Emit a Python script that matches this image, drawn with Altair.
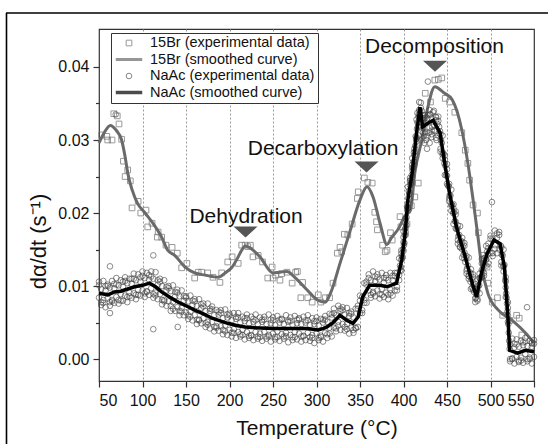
import altair as alt
import pandas as pd

# ---------------- data (rates in units of 1e-4 s^-1) ----------------
SERIES = ["15Br (experimental data)", "15Br (smoothed curve)",
          "NaAc (experimental data)", "NaAc (smoothed curve)"]

# 15Br experimental points (squares)
br_T = [53, 59, 60, 65, 67, 71, 73, 76, 78, 80,
        83, 86, 88, 95, 98, 104, 106, 111, 117, 118,
        122, 127, 134, 140, 145, 151, 160, 164, 168, 175,
        181, 189, 191, 198, 203, 210, 214, 218, 221, 224,
        227, 233, 238, 244, 249, 250, 253, 258, 260, 266,
        272, 276, 278, 282, 284, 290, 295, 302, 305, 310,
        315, 319, 324, 327, 329, 332, 336, 341, 347, 348,
        355, 359, 364, 367, 369, 370, 376, 379, 381, 385,
        387, 396, 397, 402, 404, 405, 413, 417, 425, 436,
        440, 444, 448, 453, 459, 467, 471, 474, 476, 480,
        485, 486, 491, 496, 497, 508, 514, 522, 530, 533,
        536, 548, 409, 421, 431, 502]
br_v = [307, 305, 300, 300, 336, 333, 322, 301, 271, 250,
        259, 244, 207, 216, 200, 204, 181, 186, 167, 174,
        167, 156, 153, 145, 125, 131, 111, 119, 119, 118,
        112, 105, 118, 133, 140, 131, 156, 156, 154, 156,
        140, 142, 133, 111, 126, 111, 115, 108, 117, 119,
        104, 119, 120, 84, 105, 84, 78, 88, 78, 84,
        84, 104, 145, 153, 147, 171, 170, 185, 220, 229,
        248, 242, 241, 201, 188, 177, 156, 147, 149, 173,
        163, 195, 181, 188, 185, 204, 222, 241, 364, 382,
        383, 385, 357, 352, 338, 310, 286, 268, 245, 211,
        200, 173, 142, 126, 104, 84, 60, 53, 60, 56,
        33, 22, 210, 300, 352, 78]

# 15Br smoothed curve
br_line_T = [50, 56, 63, 70, 76, 80, 83, 88, 94, 103,
             112, 122, 129, 137, 149, 160, 172, 187, 195, 203,
             210, 214, 218, 224, 235, 250, 258, 266, 275, 289,
             301, 310, 316, 327, 339, 350, 358, 365, 373, 381,
             386, 395, 401, 408, 413, 421, 428, 436, 446, 456,
             467, 474, 480, 485, 490, 497, 509, 525, 540, 550]
br_line_v = [296, 310, 320, 313, 300, 277, 255, 232, 214, 200,
             186, 167, 149, 142, 126, 118, 115, 112, 118, 126,
             140, 149, 155, 152, 140, 118, 119, 120, 112, 95,
             81, 78, 90, 131, 177, 218, 236, 222, 186, 157,
             166, 180, 195, 204, 255, 300, 345, 373, 365, 355,
             314, 268, 218, 173, 126, 90, 67, 53, 36, 22]

# NaAc smoothed curve
nac_line_T = [50, 55, 60, 68, 75, 91, 100, 108, 115, 122,
              131, 141, 150, 160, 170, 180, 190, 198, 208, 218,
              230, 250, 270, 289, 302, 308, 312, 319, 327, 335,
              342, 348, 353, 361, 373, 381, 392, 398, 402, 405,
              410, 415, 419, 422, 428, 434, 442, 448, 453, 461,
              471, 479, 484, 490, 496, 504, 511, 516, 520, 522,
              531, 540, 550]
nac_line_v = [90, 89, 88, 92, 93, 99, 101, 104, 99, 92,
              85, 78, 73, 67, 62, 56, 52, 49, 46, 44,
              43, 42, 42, 42, 40, 42, 44, 50, 60, 53,
              49, 58, 85, 101, 101, 99, 104, 136, 173, 218,
              255, 310, 345, 318, 323, 327, 310, 263, 227, 180,
              140, 104, 85, 120, 144, 163, 158, 126, 58, 12,
              8, 12, 10]

# NaAc experimental points (circles), read as rows across the band
nac_T_a = [50, 55, 60, 65, 70, 75, 80, 85, 90, 95,
           100, 105, 110, 115, 120, 125, 130, 135, 140, 145,
           150, 155, 160, 165, 170, 175, 180, 185, 190, 195,
           200, 205, 210, 215, 220, 225, 230, 235, 240, 245,
           250, 255, 260, 265, 270, 275, 280, 285, 290, 295,
           300, 305, 310, 315, 320, 325, 330, 335, 340, 345,
           350, 355, 360, 365, 370, 375, 380, 385, 390, 395,
           400, 405, 410, 415, 420, 425, 430, 435, 440, 445,
           450, 455, 460, 465, 470, 475, 480, 485, 490, 495,
           500, 505, 510, 515, 520, 525, 530, 535, 540, 545,
           550]
nac_hi_a = [106, 107, 102, 107, 111, 108, 112, 110, 117, 116,
            120, 118, 120, 119, 110, 108, 100, 101, 95, 94,
            86, 87, 82, 82, 76, 76, 72, 67, 67, 68,
            62, 63, 63, 58, 61, 58, 61, 57, 58, 61,
            57, 59, 55, 60, 57, 59, 56, 58, 60, 56,
            57, 55, 59, 62, 69, 73, 71, 70, 65, 69,
            87, 104, 116, 120, 116, 118, 115, 118, 118, 138,
            175, 236, 275, 328, 351, 334, 341, 340, 332, 306,
            267, 232, 202, 182, 159, 139, 116, 109, 137, 155,
            169, 176, 174, 150, 78, 28, 27, 25, 29, 25,
            26]
nac_mid_a = [101, 77, 100, 79, 102, 80, 107, 86, 110, 88,
             114, 92, 113, 87, 106, 79, 97, 69, 91, 65,
             84, 58, 79, 53, 72, 47, 68, 43, 63, 38,
             60, 36, 57, 33, 56, 32, 53, 30, 54, 31,
             53, 30, 54, 31, 52, 30, 54, 31, 53, 29,
             52, 30, 54, 35, 63, 46, 67, 41, 62, 42,
             80, 77, 111, 90, 112, 88, 111, 90, 114, 108,
             167, 207, 266, 298, 344, 309, 335, 313, 326, 275,
             260, 203, 198, 153, 155, 110, 112, 80, 131, 128,
             165, 151, 170, 120, 70, 0, 20, -2, 24, 0,
             21]
nac_lo_a = [84, 81, 83, 81, 85, 89, 87, 91, 90, 95,
            94, 93, 97, 91, 89, 81, 79, 78, 71, 70,
            64, 65, 60, 54, 56, 51, 51, 45, 45, 46,
            40, 41, 37, 40, 37, 33, 37, 35, 37, 33,
            35, 38, 34, 36, 33, 37, 35, 32, 36, 33,
            35, 32, 36, 43, 43, 51, 48, 48, 43, 43,
            63, 81, 94, 92, 94, 96, 91, 95, 94, 115,
            148, 208, 249, 302, 331, 311, 317, 321, 306, 280,
            240, 210, 179, 154, 138, 114, 95, 82, 113, 136,
            145, 156, 150, 127, 51, 1, 3, 2, 7, 2,
            3]
nac_T_b = [52.5, 57.5, 62.5, 67.5, 72.5, 77.5, 82.5, 87.5, 92.5, 97.5,
           102.5, 107.5, 112.5, 117.5, 122.5, 127.5, 132.5, 137.5, 142.5, 147.5,
           152.5, 157.5, 162.5, 167.5, 172.5, 177.5, 182.5, 187.5, 192.5, 197.5,
           202.5, 207.5, 212.5, 217.5, 222.5, 227.5, 232.5, 237.5, 242.5, 247.5,
           252.5, 257.5, 262.5, 267.5, 272.5, 277.5, 282.5, 287.5, 292.5, 297.5,
           302.5, 307.5, 312.5, 317.5, 322.5, 327.5, 332.5, 337.5, 342.5, 347.5,
           352.5, 357.5, 362.5, 367.5, 372.5, 377.5, 382.5, 387.5, 392.5, 397.5,
           402.5, 407.5, 412.5, 417.5, 422.5, 427.5, 432.5, 437.5, 442.5, 447.5,
           452.5, 457.5, 462.5, 467.5, 472.5, 477.5, 482.5, 487.5, 492.5, 497.5,
           502.5, 507.5, 512.5, 517.5, 522.5, 527.5, 532.5, 537.5, 542.5, 547.5]
nac_hi_b = [96, 94, 98, 97, 101, 99, 104, 103, 108, 106,
            111, 109, 110, 102, 100, 94, 93, 86, 86, 80,
            79, 74, 73, 70, 66, 66, 60, 61, 56, 57,
            53, 55, 50, 52, 49, 51, 48, 51, 48, 49,
            47, 50, 48, 51, 47, 49, 48, 50, 47, 48,
            46, 50, 51, 57, 60, 66, 61, 59, 57, 69,
            85, 102, 108, 107, 109, 105, 108, 108, 118, 145,
            192, 244, 288, 331, 334, 330, 330, 327, 308, 273,
            240, 206, 183, 160, 141, 117, 103, 111, 138, 152,
            165, 166, 153, 106, 20, 16, 17, 19, 18, 17]
nac_mid_b = [78, 100, 78, 103, 81, 106, 85, 110, 88, 112,
             90, 115, 89, 108, 81, 99, 73, 92, 66, 86,
             60, 80, 54, 75, 49, 69, 44, 65, 40, 61,
             36, 58, 34, 56, 32, 55, 31, 54, 31, 54,
             30, 54, 31, 53, 30, 54, 31, 53, 30, 52,
             29, 54, 34, 61, 42, 69, 44, 63, 40, 73,
             67, 106, 88, 113, 89, 111, 88, 114, 99, 149,
             174, 248, 270, 335, 316, 334, 313, 331, 288, 279,
             220, 212, 163, 166, 121, 123, 83, 117, 118, 158,
             145, 172, 133, 112, 0, 21, -2, 23, 0, 22]
nac_lo_b = [74, 71, 73, 77, 76, 80, 78, 84, 82, 87,
            85, 88, 84, 82, 75, 73, 66, 66, 60, 60,
            55, 53, 48, 49, 44, 42, 38, 39, 34, 33,
            31, 29, 31, 27, 29, 26, 28, 25, 28, 24,
            27, 25, 28, 23, 26, 27, 24, 26, 25, 22,
            26, 24, 29, 31, 38, 40, 39, 35, 36, 44,
            63, 77, 84, 86, 83, 85, 82, 87, 94, 121,
            170, 219, 266, 306, 310, 305, 308, 303, 284, 252,
            216, 185, 158, 139, 117, 96, 78, 90, 114, 131,
            141, 145, 128, 85, -3, -6, -4, -5, -3, -6]
# NaAc points on the steep flanks, the peak cloud and stray points
nac_steep_T = [396, 396.5, 397, 397.5, 398, 398.5, 399, 399.5, 400, 400.5,
               401, 401.5, 402, 402.5, 403, 403.5, 404, 404.5, 405, 405.5,
               406, 406.5, 407, 407.5, 408, 408.5, 409, 409.5, 410, 410.5,
               411, 411.5, 412, 412.5, 413, 413.5, 414, 414.5, 415, 415.5,
               416, 416.5, 417, 417.5, 418, 418.5, 419,
               442, 443, 444, 445, 446, 447, 448, 449, 450, 451,
               452, 453, 454, 455, 456, 457, 458, 459, 460, 461,
               462, 463, 464, 465, 466, 467, 468, 469, 470, 471,
               472, 473, 474, 475, 476, 477, 478, 479, 480, 481,
               482, 483, 484,
               485, 486, 487, 488, 489, 490, 491, 492, 493, 494, 495, 496, 497,
               512, 513, 514, 515, 516, 517, 517.5, 518, 518.5, 519,
               519.5, 520, 520.5, 521, 521.5, 522]
nac_steep_v = [128, 122, 126, 136, 141, 138, 140, 150, 160, 156,
               159, 170, 178, 180, 184, 194, 209, 206, 213, 220,
               230, 226, 228, 238, 245, 240, 243, 252, 262, 258,
               262, 270, 283, 279, 284, 292, 305, 301, 304, 315,
               324, 318, 323, 332, 341, 334, 340,
               312, 300, 296, 283, 281, 268, 265, 252, 251, 238,
               236, 224, 224, 212, 211, 200, 201, 189, 188, 178,
               179, 168, 170, 160, 162, 151, 154, 143, 146, 133,
               138, 124, 128, 114, 119, 106, 110, 98, 102, 92,
               96, 84, 88,
               94, 100, 101, 110, 112, 122, 121, 130, 129, 139, 137, 147, 144,
               155, 143, 142, 128, 129, 108, 98, 90, 84, 76,
               65, 60, 48, 36, 25, 14]
nac_peak_T = [416, 418, 420, 421, 422, 423, 424, 425, 426, 427, 428,
              429, 430, 431, 432, 433, 434, 436, 437, 438, 439, 441]
nac_peak_v = [337, 352, 325, 340, 330, 305, 296, 330, 300, 288, 380,
              310, 296, 335, 304, 318, 338, 312, 332, 300, 322, 318]
nac_out_T = [62.6, 62.6, 69.2, 112.4, 112.4, 140.5, 501.7, 542]
nac_out_v = [127, 63, 335, 142, 41, 44, 215, 71]

# annotations
ann_text = ["Dehydration", "Decarboxylation", "Decomposition"]
ann_text_T = [219, 307.5, 435.6]
ann_text_v = [186, 279.5, 418.8]
ann_tri_T = [218.4, 357.5, 436.2]
ann_tri_v = [174, 263, 401]

# axis ticks
x_ticks = [50, 75, 100, 125, 150, 175, 200, 225, 250, 275, 300, 325, 350,
           375, 400, 425, 450, 475, 500, 525, 550]
y_ticks = [0.0, 0.005, 0.01, 0.015, 0.02, 0.025, 0.03, 0.035, 0.04]

UNIT = 1e-4


def frame(T, v, s):
    return pd.DataFrame({"T": T, "v": [x * UNIT for x in v], "series": s})


df_br = frame(br_T, br_v, SERIES[0])
df_br_line = frame(br_line_T, br_line_v, SERIES[1])
df_nac = pd.concat([
    frame(nac_T_a, nac_hi_a, SERIES[2]),
    frame(nac_T_a, nac_mid_a, SERIES[2]),
    frame(nac_T_a, nac_lo_a, SERIES[2]),
    frame(nac_T_b, nac_hi_b, SERIES[2]),
    frame(nac_T_b, nac_mid_b, SERIES[2]),
    frame(nac_T_b, nac_lo_b, SERIES[2]),
    frame(nac_steep_T, nac_steep_v, SERIES[2]),
    frame(nac_peak_T, nac_peak_v, SERIES[2]),
    frame(nac_out_T, nac_out_v, SERIES[2]),
], ignore_index=True)
df_nac_line = frame(nac_line_T, nac_line_v, SERIES[3])
df_text = pd.DataFrame({"T": ann_text_T, "v": [x * UNIT for x in ann_text_v], "label": ann_text})
df_tri = pd.DataFrame({"T": ann_tri_T, "v": [x * UNIT for x in ann_tri_v]})

FONT = "Liberation Sans"

legend = alt.Legend(title=None, orient="none", legendX=12, legendY=4,
                    strokeColor="#333", fillColor="white", padding=3,
                    labelFont=FONT, labelFontSize=14.5, labelColor="#111",
                    labelLimit=400, clipHeight=14, rowPadding=1.5, labelOffset=6)

color = alt.Color("series:N", scale=alt.Scale(domain=SERIES,
                  range=["#707070", "#6a6a6a", "#444444", "#000000"]), legend=legend)
shape = alt.Shape("series:N", scale=alt.Scale(domain=SERIES,
                  range=["square", "stroke", "circle", "stroke"]), legend=legend)
size = alt.Size("series:N", scale=alt.Scale(type="ordinal", domain=SERIES,
                range=[32, 700, 32, 700]), legend=legend)
swidth = alt.StrokeWidth("series:N", scale=alt.Scale(type="ordinal", domain=SERIES,
                         range=[1, 3, 0.9, 3.5]), legend=legend)

x_axis = alt.Axis(values=x_ticks, title="Temperature (°C)",
                  labelExpr="datum.value % 50 == 0 ? datum.label : ''",
                  tickSize={"condition": {"test": "datum.value % 50 == 0", "value": 6}, "value": 3.5},
                  grid=True, gridDash=[2, 2], gridColor="#999999",
                  gridOpacity={"condition": {"test": "datum.value % 50 == 0 && datum.value > 50 && datum.value < 550", "value": 1}, "value": 0},
                  labelPadding=5, titlePadding=9)
y_axis = alt.Axis(values=y_ticks, title="dα/dt (s⁻¹)",
                  labelExpr="abs(datum.value*100 - round(datum.value*100)) < 0.001 ? format(datum.value, '.2f') : ''",
                  tickSize={"condition": {"test": "abs(datum.value*100 - round(datum.value*100)) < 0.001", "value": 6}, "value": 3.5},
                  grid=False, labelPadding=4, titlePadding=7, titleY=212, titleFontSize=22)

X = alt.X("T:Q", scale=alt.Scale(domain=[50, 550], nice=False, zero=False), axis=x_axis)
Y = alt.Y("v:Q", scale=alt.Scale(domain=[-0.003, 0.0452], nice=False, zero=False), axis=y_axis)

br_pts = alt.Chart(df_br).mark_point(filled=False).encode(x=X, y=Y, color=color, shape=shape, size=size, strokeWidth=swidth)
br_line = alt.Chart(df_br_line).mark_line(interpolate="monotone").encode(x=X, y=Y, color=color, strokeWidth=swidth)
nac_pts = alt.Chart(df_nac).mark_point(filled=False).encode(x=X, y=Y, color=color, shape=shape, size=size, strokeWidth=swidth)
nac_line = alt.Chart(df_nac_line).mark_line().encode(x=X, y=Y, color=color, strokeWidth=swidth)

tri = alt.Chart(df_tri).mark_point(shape="M-1,-0.45L1,-0.45L0,0.45Z", filled=True, size=576,
                                   color="#555555", opacity=1).encode(x="T:Q", y="v:Q")
txt = alt.Chart(df_text).mark_text(font=FONT, fontSize=21, color="#111111", baseline="alphabetic",
                                   align="center").encode(x="T:Q", y="v:Q", text="label:N")

one = pd.DataFrame({"k": [0]})
frame_left = alt.Chart(one).mark_rule(color="black", strokeWidth=1.6).encode(
    x=alt.value(-92.5), y=alt.value(-16), y2=alt.value(460))
frame_top = alt.Chart(one).mark_rule(color="black", strokeWidth=1.6).encode(
    x=alt.value(-93), x2=alt.value(460), y=alt.value(-16))

chart = alt.layer(br_pts, br_line, nac_pts, nac_line, tri, txt, frame_left, frame_top).properties(
    width=435, height=352,
    autosize=alt.AutoSizeParams(type="none"),
    padding={"left": 99, "top": 29, "right": 14, "bottom": 63},
).configure_view(stroke="#333333", strokeWidth=1.2).configure_axis(
    domain=False, labelFont=FONT, labelFontSize=16, labelColor="#111111",
    titleFont=FONT, titleFontSize=21, titleFontWeight="normal", titleColor="#111111",
    tickColor="#333333", tickWidth=1.2
)

chart.save("out.html", embed_options={"renderer": "svg", "actions": False})
